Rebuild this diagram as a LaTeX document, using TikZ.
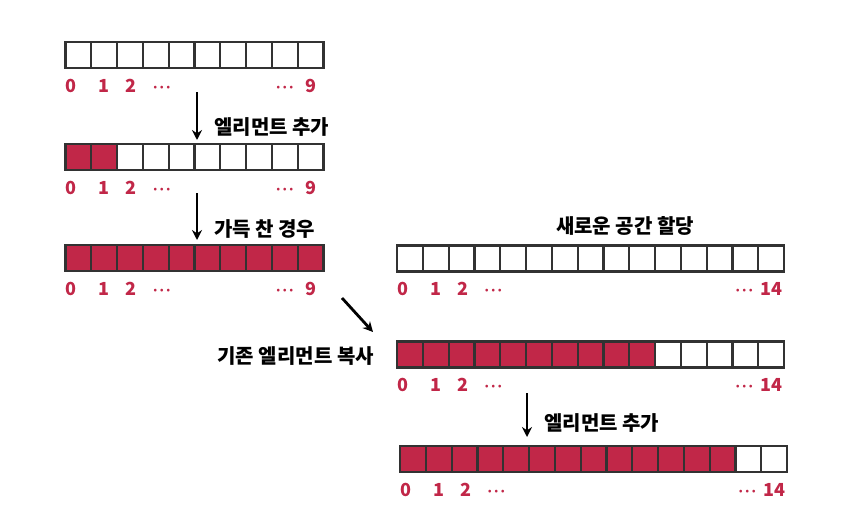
\documentclass[tikz,border=0pt]{standalone}
\usepackage{fontspec}
\setmainfont{Noto Sans CJK KR}
\usetikzlibrary{positioning,calc,arrows.meta}
\definecolor{arrred}{RGB}{193,39,72}
\definecolor{arrline}{RGB}{50,50,50}
\newcommand{\idxdots}{{\fontsize{13}{13}\selectfont·\kern-1.5pt·\kern-1.5pt·}}
\tikzset{
  cell/.style={rectangle, draw=arrline, line width=2.2pt, fill=white,
    minimum width=25.8pt, minimum height=26pt, inner sep=0pt},
  full/.style={cell, fill=arrred},
  idx/.style={text=arrred, font=\fontsize{18}{18}\selectfont\bfseries, inner sep=0pt, anchor=base},
  note/.style={font=\fontsize{20}{20}\selectfont\bfseries, inner sep=0pt},
  pusharrow/.style={-{Stealth[length=10pt,width=10pt]}, line width=2.8pt, black}
}

\begin{document}
\begin{tikzpicture}[x=1pt,y=-1pt]
\useasboundingbox (0,0) rectangle (852,530);

% empty array, size 10
\foreach \i in {1,...,10}
  \node[cell] (a\i) at ({52.6+\i*25.8}, 55) {};
\foreach \c/\t/\dx in {1/0/-7, 2/1/0, 3/2/1, 4/\idxdots/6, 9/\idxdots/0, 10/9/0}
  \node[idx] (a\c l) at ($(a\c)+(\dx,37)$) {\t};

% two elements added
\foreach \i in {1,2}
  \node[full] (b\i) at ({52.6+\i*25.8}, 157) {};
\foreach \i in {3,...,10}
  \node[cell] (b\i) at ({52.6+\i*25.8}, 157) {};
\foreach \c/\t/\dx in {1/0/-7, 2/1/0, 3/2/1, 4/\idxdots/6, 9/\idxdots/0, 10/9/0}
  \node[idx] (b\c l) at ($(b\c)+(\dx,37)$) {\t};

% full array
\foreach \i in {1,...,10}
  \node[full] (c\i) at ({52.6+\i*25.8}, 258) {};
\foreach \c/\t/\dx in {1/0/-7, 2/1/0, 3/2/1, 4/\idxdots/6, 9/\idxdots/0, 10/9/0}
  \node[idx] (c\c l) at ($(c\c)+(\dx,37)$) {\t};

% new array, size 15
\foreach \i in {1,...,15}
  \node[cell] (d\i) at ({384.1+\i*25.8}, 258.5) {};
\foreach \c/\t/\dx in {1/0/-7, 2/1/0, 3/2/1, 4/\idxdots/6, 14/\idxdots/-1, 15/14/0}
  \node[idx] (d\c l) at ($(d\c)+(\dx,37)$) {\t};

% copied elements
\foreach \i in {1,...,10}
  \node[full] (e\i) at ({384.1+\i*25.8}, 354.5) {};
\foreach \i in {11,...,15}
  \node[cell] (e\i) at ({384.1+\i*25.8}, 354.5) {};
\foreach \c/\t/\dx in {1/0/-7, 2/1/0, 3/2/1, 4/\idxdots/6, 14/\idxdots/-1, 15/14/0}
  \node[idx] (e\c l) at ($(e\c)+(\dx,37)$) {\t};

% after adding more
\foreach \i in {1,...,13}
  \node[full] (f\i) at ({387.1+\i*25.8}, 459) {};
\foreach \i in {14,15}
  \node[cell] (f\i) at ({387.1+\i*25.8}, 459) {};
\foreach \c/\t/\dx in {1/0/-7, 2/1/0, 3/2/1, 4/\idxdots/6, 14/\idxdots/-1, 15/14/0}
  \node[idx] (f\c l) at ($(f\c)+(\dx,37)$) {\t};

% notes
\node[note, anchor=west] (add1) at (214,127) {엘리먼트 추가};
\node[note, anchor=west] (isfull) at (214,229) {가득 찬 경우};
\node[note] (alloc) at (625,226) {새로운 공간 할당};
\node[note, anchor=east] (copy) at (374,356) {기존 엘리먼트 복사};
\node[note, anchor=west] (add2) at (544,423) {엘리먼트 추가};

% arrows
\coordinate (p1) at (197,92);
\coordinate (q1) at (197,140);
\coordinate (p2) at (197,193);
\coordinate (q2) at (197,240);
\coordinate (p3) at (342,298);
\coordinate (q3) at (373,332);
\coordinate (p4) at (527,393);
\coordinate (q4) at (527,437);
\draw[pusharrow] (p1) -- (q1);
\draw[pusharrow] (p2) -- (q2);
\draw[pusharrow] (p3) -- (q3);
\draw[pusharrow] (p4) -- (q4);
\end{tikzpicture}
\end{document}
